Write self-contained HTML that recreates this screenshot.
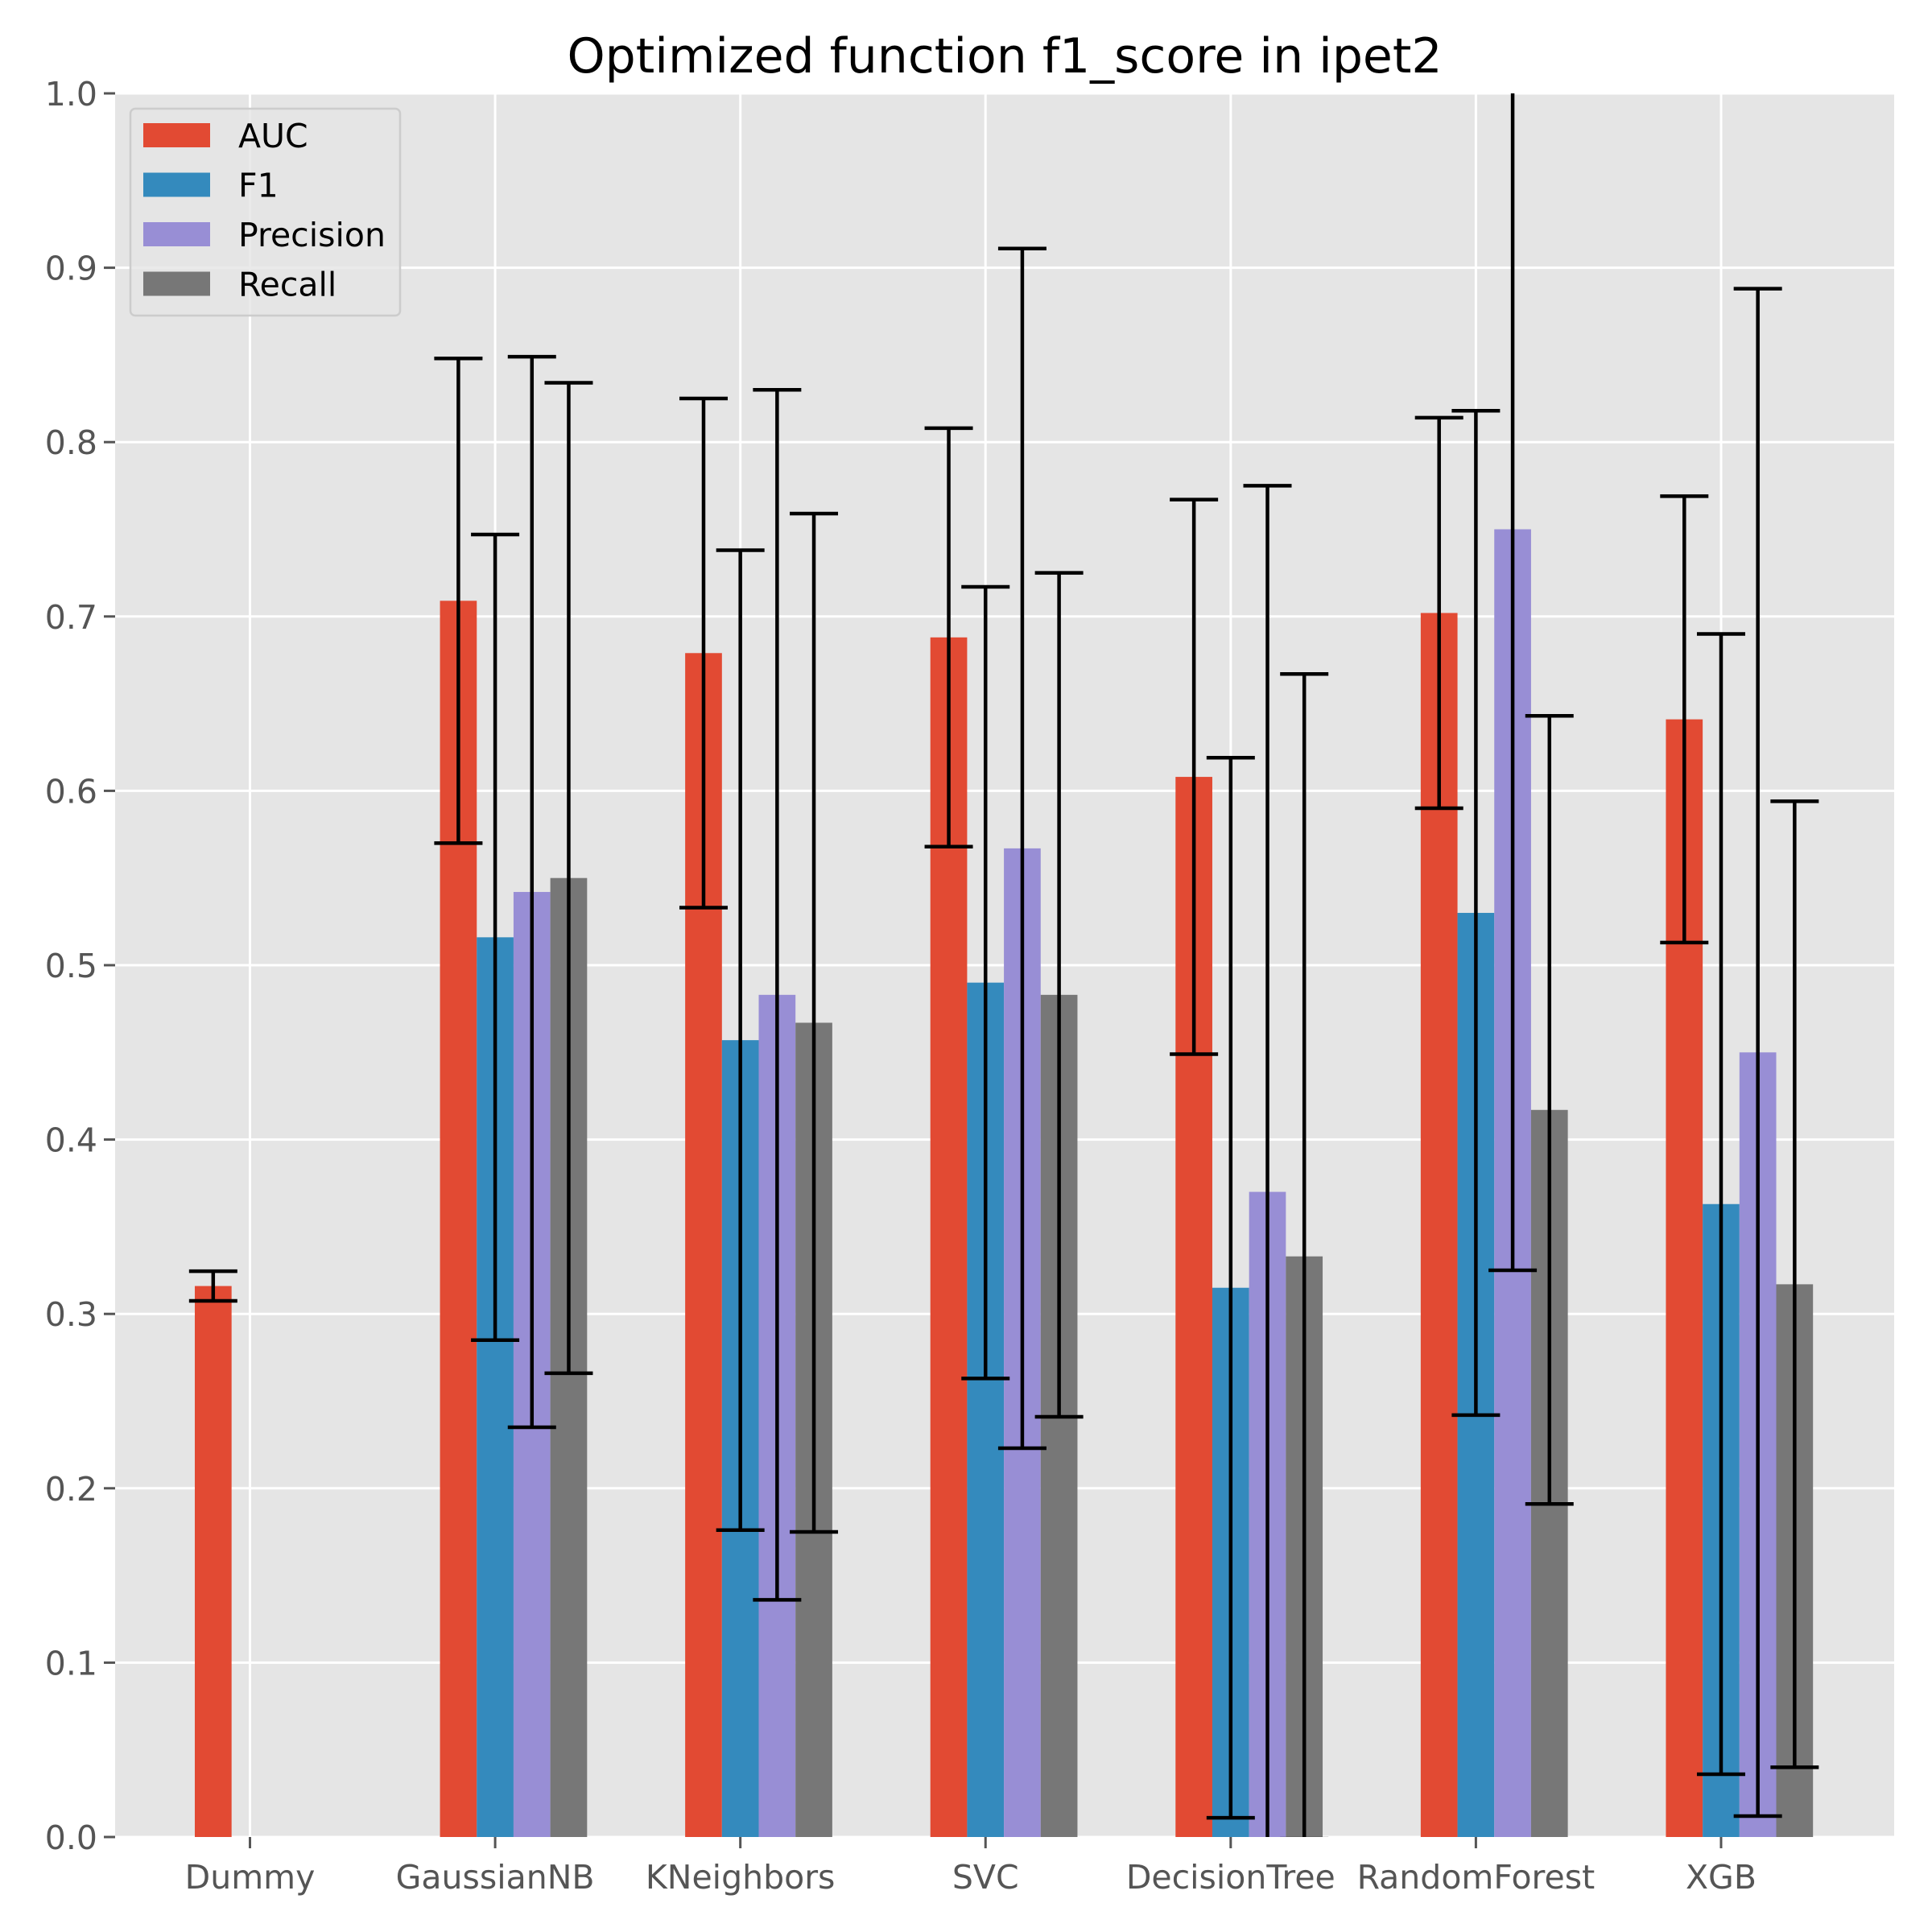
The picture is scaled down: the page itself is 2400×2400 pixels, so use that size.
<!DOCTYPE html>
<html><head><meta charset="utf-8"><style>
html,body{margin:0;padding:0;background:#fff}
svg{display:block}
text{font-family:"DejaVu Sans","Liberation Sans",sans-serif}
</style></head><body>
<svg id="chart" width="2400" height="2400" viewBox="0 0 2400 2400"></svg>
<script>
const categories = ["Dummy","GaussianNB","KNeighbors","SVC","DecisionTree","RandomForest","XGB"];
const seriesNames = ["AUC","F1","Precision","Recall"];
const aucValues = [0.316,0.709,0.679,0.688,0.608,0.702,0.641];
const aucErrors = [0.0085,0.139,0.146,0.120,0.159,0.112,0.128];
const f1Values = [0,0.516,0.457,0.490,0.315,0.530,0.363];
const f1Errors = [0,0.231,0.281,0.227,0.304,0.288,0.327];
const precisionValues = [0,0.542,0.483,0.567,0.370,0.750,0.450];
const precisionErrors = [0,0.307,0.347,0.344,0.405,0.425,0.438];
const recallValues = [0,0.550,0.467,0.483,0.333,0.417,0.317];
const recallErrors = [0,0.284,0.292,0.242,0.334,0.226,0.277];
const yTicks = [0,0.1,0.2,0.3,0.4,0.5,0.6,0.7,0.8,0.9,1.0];
const yTickLabels = ["0.0","0.1","0.2","0.3","0.4","0.5","0.6","0.7","0.8","0.9","1.0"];

const colors = ["#E24A33","#348ABD","#988ED5","#777777"];
const values = [aucValues,f1Values,precisionValues,recallValues];
const errors = [aucErrors,f1Errors,precisionErrors,recallErrors];
const L=143,R=2353,T=116,B=2282;
const xmin=-0.55,xmax=6.706;
const sx=v=>L+(v-xmin)/(xmax-xmin)*(R-L);
const sy=v=>B-(v-0)/(1-0)*(B-T);
const NS="http://www.w3.org/2000/svg";
const svg=document.getElementById('chart');
function mk(tag,attrs,parent){const e=document.createElementNS(NS,tag);for(const k in attrs)e.setAttribute(k,attrs[k]);(parent||svg).appendChild(e);return e;}

const bg=mk('rect',{x:L,y:T,width:R-L,height:B-T,fill:'#E5E5E5'});


const clip=mk('clipPath',{id:'pc'});mk('rect',{x:L,y:T,width:R-L,height:B-T},clip);

yTicks.forEach((t,i)=>{
  const g=mk('line',{x1:L,x2:R,y1:sy(t),y2:sy(t),stroke:'#fff','stroke-width':3});
  
  
  const tk=mk('line',{x1:L-14,x2:L,y1:sy(t),y2:sy(t),stroke:'#555','stroke-width':3});
  
  
  const lb=mk('text',{x:L-22,y:sy(t)+15,'text-anchor':'end','font-size':41,fill:'#555'});
  lb.textContent=yTickLabels[i];
  
  
});
categories.forEach((c,i)=>{
  const g=mk('line',{x1:sx(i),x2:sx(i),y1:T,y2:B,stroke:'#fff','stroke-width':3});
  
  
  const tk=mk('line',{x1:sx(i),x2:sx(i),y1:B,y2:B+14,stroke:'#555','stroke-width':3});
  
  
  const lb=mk('text',{x:sx(i),y:B+64,'text-anchor':'middle','font-size':41,fill:'#555'});
  lb.textContent=c;
  
  
});

const bw=0.15, offs=[-0.15,0,0.15,0.30];
const plotG=mk('g',{'clip-path':'url(#pc)'});
values.forEach((arr,s)=>{
  arr.forEach((v,i)=>{
    const x0=sx(i+offs[s]-bw/2),x1=sx(i+offs[s]+bw/2);
    const r=mk('rect',{x:x0,y:sy(v),width:x1-x0,height:sy(0)-sy(v),fill:colors[s]},plotG);
    
    
  });
});
values.forEach((arr,s)=>{
  arr.forEach((v,i)=>{
    const e=errors[s][i]; if(e===0) return;
    const cx=sx(i+offs[s]);
    const g=mk('g',{stroke:'#000','stroke-width':4.5},plotG);
    
    
    mk('line',{x1:cx,x2:cx,y1:sy(v-e),y2:sy(v+e)},g);
    mk('line',{x1:cx-30,x2:cx+30,y1:sy(v-e),y2:sy(v-e)},g);
    mk('line',{x1:cx-30,x2:cx+30,y1:sy(v+e),y2:sy(v+e)},g);
  });
});

const lg=mk('g',{});


mk('rect',{x:162,y:135,width:335,height:257,rx:6,fill:'#E5E5E5',stroke:'#CCCCCC','stroke-width':2.5,'fill-opacity':0.8},lg);
seriesNames.forEach((n,k)=>{
  const yy=168+k*61.5;
  const p=mk('rect',{x:178,y:yy-15,width:83,height:30,fill:colors[k]},lg);
  
  
  const t=mk('text',{x:296,y:yy+15,'font-size':41,fill:'#000'},lg);
  t.textContent=n;
  
  
});

const title=mk('text',{x:(L+R)/2,y:90,'text-anchor':'middle','font-size':60,fill:'#000'});
title.textContent='Optimized function f1_score in ipet2';


</script>
</body></html>
